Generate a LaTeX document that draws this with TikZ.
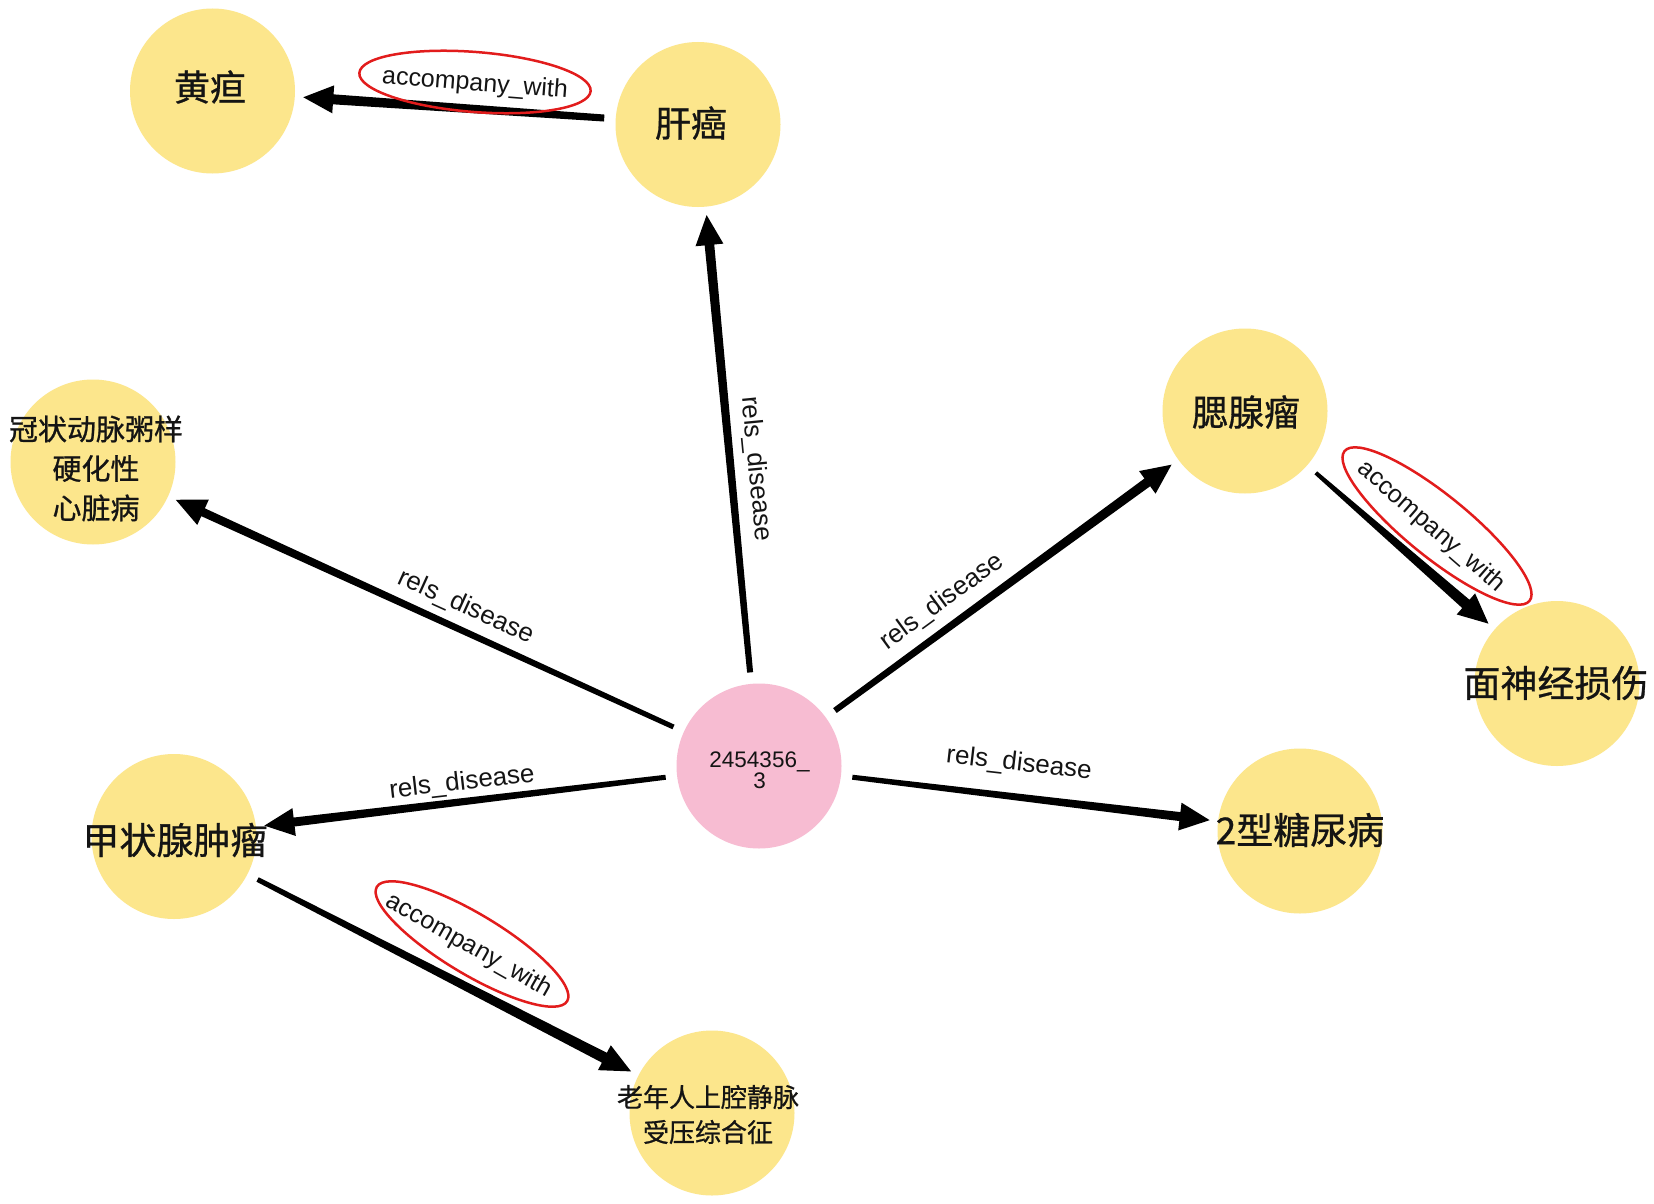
\documentclass[tikz,border=0pt]{standalone}
\usepackage{fontspec}
\setmainfont{Liberation Sans}
\newfontfamily\cjk{Noto Sans CJK SC}[FakeBold=0.8]
\usetikzlibrary{calc,shapes.geometric}
\definecolor{nodeyellow}{RGB}{252,230,140}
\definecolor{nodepink}{RGB}{247,188,210}
\definecolor{ringred}{RGB}{226,28,28}
\definecolor{inkc}{RGB}{20,20,20}
\tikzset{
  ent/.style={circle, fill=nodeyellow, minimum size=165pt, inner sep=0pt},
  ctr/.style={circle, fill=nodepink, minimum size=165pt, inner sep=0pt},
  cjktext/.style={font=\cjk\fontsize{36}{40}\selectfont, text=inkc, inner sep=0pt, align=center},
  reltext/.style={font=\fontsize{26}{30}\selectfont, text=inkc, inner sep=0pt},
  ring/.style={draw=ringred, line width=2.5pt, ellipse, inner sep=0pt},
}
% tapered arrow from node #1 to node #2, half widths #3 (start) and #4 (end)
\newcommand\linkarrow[4]{%
  \coordinate (la) at ($(#1)!94pt!(#2)$);
  \coordinate (lt) at ($(#2)!91pt!(#1)$);
  \coordinate (lb) at ($(lt)!30pt!(la)$);
  \fill[black] ($(la)!#3!90:(lt)$) -- ($(lb)!#4!-90:(la)$) -- ($(lb)!14pt!-90:(la)$)
     -- (lt) -- ($(lb)!14pt!90:(la)$) -- ($(lb)!#4!90:(la)$) -- ($(la)!#3!-90:(lt)$) -- cycle;
}
\begin{document}
\begin{tikzpicture}[x=1pt,y=-1pt]
\useasboundingbox (0,0) rectangle (1654,1204);
\fill[white] (0,0) rectangle (1654,1204);

% circles
\node[ent] (huang) at (212.5,91) {};
\node[ent] (gan) at (698,124.5) {};
\node[ent] (guan) at (93,462) {};
\node[ent] (sai) at (1245,411) {};
\node[ent] (mian) at (1557,683.5) {};
\node[ctr] (c) at (759,766) {};
\node[ent] (jia) at (174,836.5) {};
\node[ent] (tang) at (1300,831) {};
\node[ent] (lao) at (712,1113) {};

% connectors
\linkarrow{gan}{huang}{3.5pt}{5pt}
\linkarrow{c}{gan}{3pt}{4.8pt}
\linkarrow{c}{guan}{2.5pt}{4.3pt}
\linkarrow{c}{sai}{3pt}{4.8pt}
\linkarrow{c}{jia}{2.5pt}{4.5pt}
\linkarrow{c}{tang}{2.5pt}{4.5pt}
\linkarrow{sai}{mian}{2pt}{5.5pt}
\linkarrow{jia}{lao}{2.5pt}{5.5pt}

% node texts
\node[cjktext] (thuang) at (210,87) {黄疸};
\node[cjktext] (tgan) at (691,123) {肝癌};
\node[cjktext, font=\cjk\fontsize{29}{39.5}\selectfont] (tguan) at (96,468.5) {冠状动脉粥样\\硬化性\\心脏病};
\node[cjktext] (tsai) at (1246,412) {腮腺瘤};
\node[cjktext, font=\cjk\fontsize{37}{40}\selectfont] (tmian) at (1556,683) {面神经损伤};
\node[cjktext, font=\cjk\fontsize{37}{40}\selectfont] (tjia) at (175,840) {甲状腺肿瘤};
\node[cjktext, font=\cjk\fontsize{37}{40}\selectfont] (ttang) at (1300,830) {2型糖尿病};
\node[cjktext, font=\cjk\fontsize{26}{35}\selectfont] (tlao) at (708,1114.5) {老年人上腔静脉\\受压综合征};
\node[font=\fontsize{22.5}{21}\selectfont, text=inkc, inner sep=0pt, align=center] (tc) at (759.5,770) {2454356\_\\3};

% edge labels
\node[reltext, rotate=-84.4] (l1) at (756,469) {rels\_disease};
\node[reltext, rotate=-24.4] (l2) at (466,607) {rels\_disease};
\node[reltext, rotate=36.1] (l3) at (942,602) {rels\_disease};
\node[reltext, rotate=6.5] (l4) at (462,783) {rels\_disease};
\node[reltext, rotate=-6.5] (l5) at (1019,764) {rels\_disease};
\node[reltext, font=\fontsize{25}{30}\selectfont, rotate=-4.5] (a1) at (475,84) {accompany\_with};
\node[reltext, font=\fontsize{25}{30}\selectfont, rotate=-41] (a2) at (1431,527) {accompany\_with};
\node[reltext, font=\fontsize{25}{30}\selectfont, rotate=-29.5] (a3) at (469,946) {accompany\_with};

% red rings
\node[ring, minimum width=232pt, minimum height=60pt, rotate=-4.5] (r1) at (475,82) {};
\node[ring, minimum width=238pt, minimum height=62pt, rotate=-39] (r2) at (1437,526) {};
\node[ring, minimum width=222pt, minimum height=60pt, rotate=-31] (r3) at (472,944) {};
\end{tikzpicture}
\end{document}
